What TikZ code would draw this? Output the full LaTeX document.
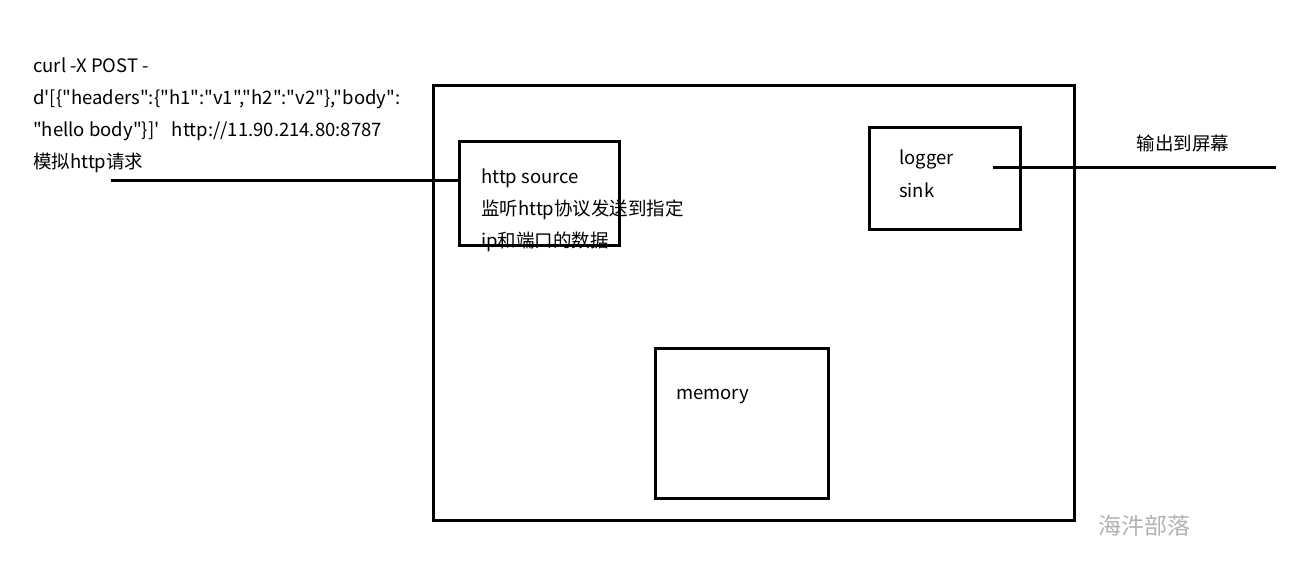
\documentclass[tikz,border=0pt]{standalone}
\usepackage{fontspec}
\newfontfamily\cjkfont{Noto Sans CJK SC}
\begin{document}
\begin{tikzpicture}[x=1pt,y=-1pt,
  boxst/.style={draw=black,line width=3pt},
  linest/.style={draw=black,line width=3pt},
  txt/.style={anchor=base west,inner sep=0pt,font=\cjkfont\fontsize{18.5}{20}\selectfont},
  wm/.style={anchor=base,inner sep=0pt,text=black!30,font=\cjkfont\fontsize{23}{25}\selectfont}]
\useasboundingbox[fill=white] (0,0) rectangle (1292,572);
% boxes
\draw[boxst] (433,86) rectangle (1074,520);
\node[boxst,inner sep=0pt,minimum width=160pt,minimum height=104pt,anchor=north west] (src) at (458,140) {};
\node[boxst,inner sep=0pt,minimum width=151pt,minimum height=102pt,anchor=north west] (sink) at (868,126) {};
\node[boxst,inner sep=0pt,minimum width=173pt,minimum height=150pt,anchor=north west] (mem) at (654,347) {};
% connectors
\coordinate (inL) at (111,181);
\draw[linest] (inL) -- (inL -| src.west);
\coordinate (outA) at (993,168);
\coordinate (outB) at (1276,168);
\draw[linest] (outA) -- (outB);
% texts
\node[txt] (t1) at (33,73) {curl -X POST -};
\node[txt] (t2) at (33,105) {d'[\{"headers":\{"h1":"v1","h2":"v2"\},"body":};
\node[txt] (t3) at (33,137) {"hello body"\}]'\ \ \ http://11.90.214.80:8787};
\node[txt] (t4) at (33,168) {模拟http请求};
\node[txt] (s1) at (481,184) {http source};
\node[txt] (s2) at (481,215) {监听http协议发送到指定};
\node[txt] (s3) at (481,247) {ip和端口的数据};
\node[txt] (k1) at (899,165) {logger};
\node[txt] (k2) at (899,197) {sink};
\node[txt] (m1) at (676,399) {memory};
\node[txt,anchor=base] (o1) at (1183,151) {输出到屏幕};
\node[wm] (w1) at (1144,534) {海汼部落};
\end{tikzpicture}
\end{document}
